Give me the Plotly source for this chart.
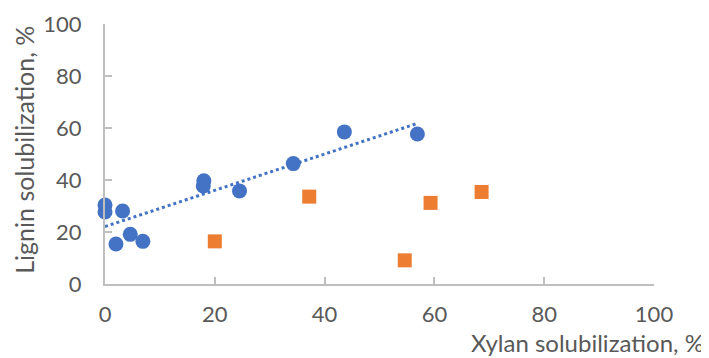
import numpy as np
import plotly.graph_objects as go

# Blue series (circles)
blue_x = [0.0, 0.0, 3.2, 2.0, 4.6, 6.9, 18.0, 17.9, 24.5, 34.3, 43.6, 56.9]
blue_y = [30.4, 27.7, 28.1, 15.4, 19.1, 16.4, 39.7, 37.7, 35.8, 46.3, 58.5, 57.7]

# Orange series (squares)
orange_x = [20.0, 37.2, 54.6, 59.3, 68.6]
orange_y = [16.4, 33.6, 9.1, 31.2, 35.4]

x_ticks = [0, 20, 40, 60, 80, 100]
y_ticks = [0, 20, 40, 60, 80, 100]
x_title = "Xylan solubilization, %"
y_title = "Lignin solubilization, %"

BLUE = "#4472C4"
ORANGE = "#ED7D31"
GRAY = "#BFBFBF"
TXT = "#595959"
FONT = "Lato"

# linear trendline for blue series
slope, intercept = np.polyfit(blue_x, blue_y, 1)
tx = np.array([min(blue_x), max(blue_x)])
ty = slope * tx + intercept

fig = go.Figure()
fig.add_trace(go.Scatter(x=tx, y=ty, mode="lines",
                         line=dict(color=BLUE, width=3, dash="dot"),
                         showlegend=False, hoverinfo="skip", cliponaxis=False))
fig.add_trace(go.Scatter(x=blue_x, y=blue_y, mode="markers",
                         marker=dict(color=BLUE, size=15, symbol="circle"),
                         showlegend=False, cliponaxis=False))
fig.add_trace(go.Scatter(x=orange_x, y=orange_y, mode="markers",
                         marker=dict(color=ORANGE, size=14, symbol="square"),
                         showlegend=False, cliponaxis=False))

# page body has an 8px margin, so the figure is shifted by (8, 8)
fig.update_layout(
    width=709, height=358,
    margin=dict(l=96.5, r=62.5, t=16, b=82),
    paper_bgcolor="white", plot_bgcolor="white",
    font=dict(family=FONT, size=22, color=TXT),
    xaxis=dict(range=[0, 100], tickvals=x_ticks, showgrid=False, zeroline=False,
               automargin=False,
               showline=True, linecolor=GRAY, linewidth=2,
               ticks="inside", ticklen=7, tickcolor=GRAY, tickwidth=2,
               ticklabelstandoff=10, tickfont=dict(family=FONT, size=22, color=TXT)),
    yaxis=dict(range=[0, 100], tickvals=y_ticks, showgrid=False, zeroline=False,
               automargin=False,
               showline=True, linecolor=GRAY, linewidth=2,
               ticks="inside", ticklen=7, tickcolor=GRAY, tickwidth=2,
               ticklabelstandoff=17, tickfont=dict(family=FONT, size=22, color=TXT)),
    annotations=[
        dict(text=x_title, xref="paper", yref="paper", x=1.095, y=-0.225,
             xanchor="right", yanchor="middle", showarrow=False,
             font=dict(family=FONT, size=24, color=TXT)),
        dict(text=y_title, xref="paper", yref="paper", x=-0.148, y=1.0,
             xanchor="center", yanchor="top", textangle=-90, showarrow=False,
             font=dict(family=FONT, size=25, color=TXT)),
    ],
)

fig.write_html("out.html")
